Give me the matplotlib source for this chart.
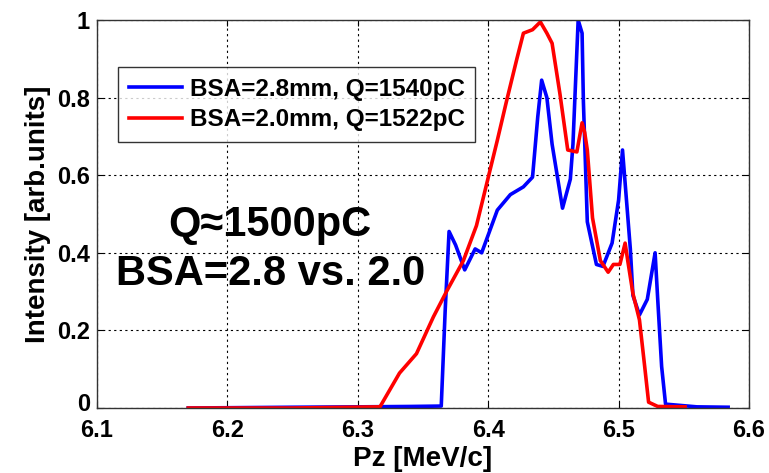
import matplotlib
matplotlib.use('Agg')
import matplotlib.pyplot as plt
from matplotlib.transforms import ScaledTranslation

plt.rcParams['font.family'] = ['Liberation Sans', 'DejaVu Sans']
plt.rcParams['font.weight'] = 'bold'

# BSA=2.8mm, Q=1540pC
pz_blue = [6.17, 6.25, 6.30, 6.340, 6.364, 6.367, 6.370, 6.375, 6.382, 6.390, 6.395,
           6.407, 6.417, 6.427, 6.434, 6.438, 6.441, 6.445, 6.449, 6.457, 6.463,
           6.465, 6.469, 6.472, 6.473, 6.476, 6.483, 6.488, 6.495, 6.500, 6.503,
           6.505, 6.509, 6.511, 6.516, 6.522, 6.528, 6.530, 6.533, 6.536, 6.56, 6.584]
int_blue = [0.0, 0.002, 0.003, 0.004, 0.005, 0.25, 0.455, 0.42, 0.356, 0.41, 0.40,
            0.51, 0.55, 0.57, 0.595, 0.75, 0.845, 0.80, 0.68, 0.515, 0.59,
            0.68, 1.0, 0.966, 0.79, 0.48, 0.37, 0.365, 0.425, 0.536, 0.665,
            0.58, 0.41, 0.29, 0.24, 0.28, 0.40, 0.28, 0.107, 0.01, 0.003, 0.002]

# BSA=2.0mm, Q=1522pC
pz_red = [6.17, 6.25, 6.317, 6.332, 6.345, 6.358, 6.368, 6.381, 6.391, 6.399, 6.407,
          6.414, 6.422, 6.427, 6.434, 6.440, 6.445, 6.449, 6.455, 6.461, 6.468,
          6.472, 6.474, 6.476, 6.480, 6.486, 6.492, 6.496, 6.501, 6.505, 6.507,
          6.511, 6.516, 6.520, 6.523, 6.53, 6.551]
int_red = [0.0, 0.0, 0.003, 0.09, 0.14, 0.235, 0.30, 0.38, 0.47, 0.58, 0.69,
           0.79, 0.90, 0.966, 0.975, 0.995, 0.966, 0.94, 0.81, 0.665, 0.66,
           0.735, 0.71, 0.665, 0.49, 0.38, 0.35, 0.37, 0.37, 0.425, 0.38,
           0.295, 0.227, 0.107, 0.015, 0.004, 0.003]

labels = ['BSA=2.8mm, Q=1540pC', 'BSA=2.0mm, Q=1522pC']
xticks = [6.1, 6.2, 6.3, 6.4, 6.5, 6.6]
yticks = [0, 0.2, 0.4, 0.6, 0.8, 1]

fig = plt.figure(figsize=(7.69, 4.73), dpi=100)
ax = fig.add_axes([0.1261, 0.1374, 0.8479, 0.8203])

ax.plot(pz_blue, int_blue, color='#0000ff', lw=2.6, label=labels[0])
ax.plot(pz_red, int_red, color='#ff0000', lw=2.6, label=labels[1])

ax.set_xlim(6.1, 6.6)
ax.set_ylim(0, 1)
ax.set_xticks(xticks)
ax.set_xticklabels([f'{v:g}' for v in xticks])
ax.set_yticks(yticks)
ax.set_yticklabels([f'{v:g}' for v in yticks])
ax.tick_params(direction='in', top=True, right=True, labelsize=17, length=4)
ax.tick_params(axis='y', pad=5)
ax.tick_params(axis='x', pad=8)
ax.grid(True, color='black', linestyle=(0, (2, 3)), linewidth=0.8)
for s in ax.spines.values():
    s.set_linewidth(1.0)
    s.set_color('#333333')

# nudge the "0" label up a little so it clears "6.1"
lbl0 = ax.get_yticklabels()[0]
lbl0.set_transform(lbl0.get_transform() + ScaledTranslation(0, 4 / 72, fig.dpi_scale_trans))

ax.set_xlabel('Pz [MeV/c]', fontsize=20, fontweight='bold', labelpad=3)
ax.set_ylabel('Intensity [arb.units]', fontsize=20, fontweight='bold', labelpad=4)

leg = ax.legend(loc='upper left', bbox_to_anchor=(0.032, 0.879), fontsize=17.5,
                frameon=True, fancybox=False, handlelength=2.2, borderpad=0.45,
                labelspacing=0.3, handletextpad=0.3, borderaxespad=0)
leg.get_frame().set_edgecolor('black')
leg.get_frame().set_linewidth(1.0)

ax.text(6.2327, 0.472, 'Q≈1500pC', fontsize=30, fontweight='bold',
        ha='center', va='center')
ax.text(6.233, 0.345, 'BSA=2.8 vs. 2.0', fontsize=30, fontweight='bold',
        ha='center', va='center')

fig.savefig('out.png', dpi=100)
